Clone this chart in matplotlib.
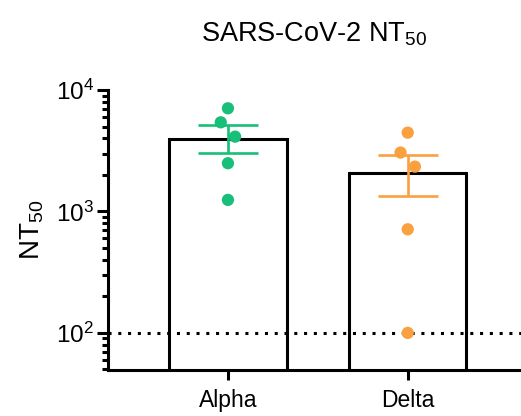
import matplotlib
matplotlib.use("Agg")
import matplotlib.pyplot as plt
import numpy as np

plt.rcParams['font.family'] = ['Liberation Sans', 'DejaVu Sans']
plt.rcParams['mathtext.fontset'] = 'custom'
plt.rcParams['mathtext.rm'] = 'Liberation Sans'
plt.rcParams['mathtext.default'] = 'regular'

# data
variants = ['Alpha', 'Delta']
bar_means = [3950, 2085]
err_low = [895, 742]
err_high = [1200, 832]
alpha_points = [7070, 5420, 4130, 2495, 1245]
alpha_jitter = [0.0, -0.04, 0.04, 0.0, 0.0]
delta_points = [4455, 3055, 2340, 713, 100]
delta_jitter = [0.0, -0.04, 0.04, 0.0, 0.0]
detection_limit = 100
colors = ['#17bf78', '#fba03f']

fig = plt.figure(figsize=(5.21, 4.16), dpi=100)
ax = fig.add_axes([108 / 521, 46 / 416, 413 / 521, 280 / 416])

x = np.arange(len(variants))
ax.bar(x, bar_means, width=0.652, color='white', edgecolor='black', linewidth=2.2, zorder=1)
ax.axhline(detection_limit, color='black', linestyle=(0, (1, 2.2)), linewidth=2.2, zorder=2)

for i, (pts, jit) in enumerate([(alpha_points, alpha_jitter), (delta_points, delta_jitter)]):
    ax.errorbar(x[i], bar_means[i], yerr=[[err_low[i]], [err_high[i]]], color=colors[i],
                elinewidth=1.9, capsize=21.5, capthick=1.9, fmt='none', zorder=3)
    ax.scatter(x[i] + np.array(jit), pts, s=78, color=colors[i], edgecolors='none', zorder=4)

ax.set_yscale('log')
ax.set_ylim(49.5, 10000)
ax.set_xlim(-0.667, 1.63)
ax.set_xticks(x)
ax.set_xticklabels(variants)

for side in ['top', 'right']:
    ax.spines[side].set_visible(False)
for side in ['left', 'bottom']:
    ax.spines[side].set_linewidth(2.2)

ax.tick_params(axis='y', which='major', length=8, width=2.2, labelsize=17.5, pad=2)
ax.tick_params(axis='y', which='minor', length=4, width=2.2)
ax.tick_params(axis='x', which='major', length=7, width=2.2, labelsize=16.5, pad=7)

ax.set_ylabel('NT$_{50}$', fontsize=20, labelpad=7)
ax.set_title('SARS-CoV-2 NT$_{50}$', fontsize=19.5, pad=35)

fig.savefig('out.png', dpi=100)
